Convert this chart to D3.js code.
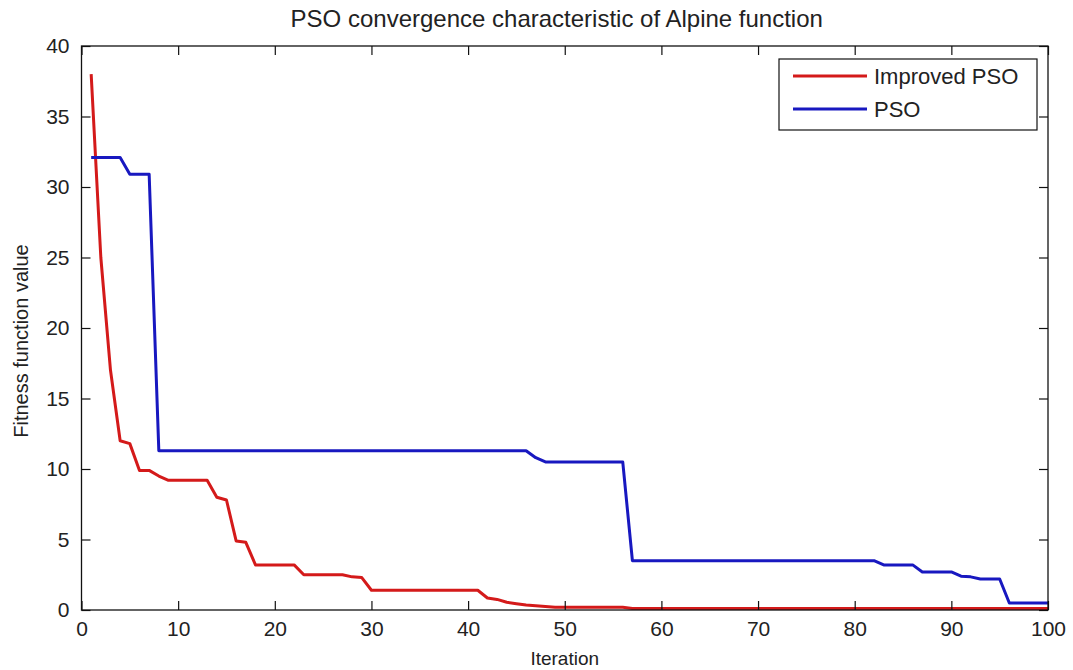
<!DOCTYPE html>
<html>
<head>
<meta charset="utf-8">
<script src="https://cdn.jsdelivr.net/npm/d3@7/dist/d3.min.js"></script>
<style>
html,body{margin:0;padding:0;background:#fff;}
svg{display:block;}
text{font-family:"Liberation Sans",Arial,sans-serif;fill:#222;}
</style>
</head>
<body>
<svg id="chart" width="1073" height="670"></svg>
<script>
const title = "PSO convergence characteristic of Alpine function";
const xLabel = "Iteration";
const yLabel = "Fitness function value";
const seriesNames = ["Improved PSO", "PSO"];
const seriesColors = ["#d41a1a", "#1818c0"];
const xTicks = [0,10,20,30,40,50,60,70,80,90,100];
const yTicks = [0,5,10,15,20,25,30,35,40];

const iterations = Array.from({length:100}, (_, i) => i + 1);

const improvedPSO = [
  38, 25, 17, 12, 11.8, 9.9, 9.9, 9.5, 9.2, 9.2,
  9.2, 9.2, 9.2, 8.0, 7.8, 4.9, 4.8, 3.2, 3.2, 3.2,
  3.2, 3.2, 2.5, 2.5, 2.5, 2.5, 2.5, 2.35, 2.3, 1.4,
  1.4, 1.4, 1.4, 1.4, 1.4, 1.4, 1.4, 1.4, 1.4, 1.4,
  1.4, 0.85, 0.75, 0.55, 0.45, 0.35, 0.3, 0.25, 0.2, 0.2,
  0.2, 0.2, 0.2, 0.2, 0.2, 0.2, 0.1, 0.1, 0.1, 0.1,
  0.1, 0.1, 0.1, 0.1, 0.1, 0.1, 0.1, 0.1, 0.1, 0.1,
  0.1, 0.1, 0.1, 0.1, 0.1, 0.1, 0.1, 0.1, 0.1, 0.1,
  0.1, 0.1, 0.1, 0.1, 0.1, 0.1, 0.1, 0.1, 0.1, 0.1,
  0.1, 0.1, 0.1, 0.1, 0.1, 0.1, 0.1, 0.1, 0.1, 0.1
];

const basicPSO = [
  32.1, 32.1, 32.1, 32.1, 30.9, 30.9, 30.9, 11.3, 11.3, 11.3,
  11.3, 11.3, 11.3, 11.3, 11.3, 11.3, 11.3, 11.3, 11.3, 11.3,
  11.3, 11.3, 11.3, 11.3, 11.3, 11.3, 11.3, 11.3, 11.3, 11.3,
  11.3, 11.3, 11.3, 11.3, 11.3, 11.3, 11.3, 11.3, 11.3, 11.3,
  11.3, 11.3, 11.3, 11.3, 11.3, 11.3, 10.8, 10.5, 10.5, 10.5,
  10.5, 10.5, 10.5, 10.5, 10.5, 10.5, 3.5, 3.5, 3.5, 3.5,
  3.5, 3.5, 3.5, 3.5, 3.5, 3.5, 3.5, 3.5, 3.5, 3.5,
  3.5, 3.5, 3.5, 3.5, 3.5, 3.5, 3.5, 3.5, 3.5, 3.5,
  3.5, 3.5, 3.2, 3.2, 3.2, 3.2, 2.7, 2.7, 2.7, 2.7,
  2.4, 2.35, 2.2, 2.2, 2.2, 0.5, 0.5, 0.5, 0.5, 0.5
];

const svg = d3.select("#chart");
const L = 81.5, R = 1048, T = 46, B = 610;

const x = d3.scaleLinear().domain([0,100]).range([L,R]);
const y = d3.scaleLinear().domain([0,40]).range([B,T]);

const tickLen = 9;
const tickFont = 21;

const line = d3.line().x((d,i)=>x(iterations[i])).y(d=>y(d));
const series = [improvedPSO, basicPSO];
series.forEach((s, k) => {
  svg.append("path")
    .datum(s)
    .attr("d", line)
    .attr("fill","none")
    .attr("stroke", seriesColors[k])
    .attr("stroke-width", 3)
    .attr("stroke-linejoin","round");
});

const gB = svg.append("g").attr("transform",`translate(0,${B})`)
  .call(d3.axisBottom(x).tickValues(xTicks).tickSizeInner(-tickLen).tickSizeOuter(0).tickPadding(tickLen+2));
const gT = svg.append("g").attr("transform",`translate(0,${T})`)
  .call(d3.axisTop(x).tickValues(xTicks).tickSizeInner(-tickLen).tickSizeOuter(0).tickFormat(""));
const gL = svg.append("g").attr("transform",`translate(${L},0)`)
  .call(d3.axisLeft(y).tickValues(yTicks).tickSizeInner(-tickLen).tickSizeOuter(0).tickPadding(tickLen+3));
const gR = svg.append("g").attr("transform",`translate(${R},0)`)
  .call(d3.axisRight(y).tickValues(yTicks).tickSizeInner(-tickLen).tickSizeOuter(0).tickFormat(""));

[gB,gT,gL,gR].forEach(g=>{
  g.select(".domain").remove();
  g.selectAll(".tick line").attr("stroke","#111").attr("stroke-width",1.2);
  g.selectAll(".tick text").attr("font-size",tickFont).attr("font-family","Liberation Sans, Arial, sans-serif").attr("fill","#222");
});
gB.selectAll(".tick text").attr("dy","0.72em");

svg.append("rect").attr("x",L).attr("y",T).attr("width",R-L).attr("height",B-T)
  .attr("fill","none").attr("stroke","#111").attr("stroke-width",1.3);

svg.append("text").attr("x",(L+R)/2 - 8).attr("y",27).attr("text-anchor","middle")
  .attr("font-size",24).text(title);
svg.append("text").attr("x",(L+R)/2).attr("y",665).attr("text-anchor","middle")
  .attr("font-size",19).text(xLabel);
svg.append("text").attr("transform",`translate(28,${(T+B)/2 + 13}) rotate(-90)`).attr("text-anchor","middle")
  .attr("font-size",20).text(yLabel);

const lg = svg.append("g");
lg.append("rect").attr("x",779).attr("y",59).attr("width",258).attr("height",71)
  .attr("fill","#fff").attr("stroke","#111").attr("stroke-width",1.2);
seriesNames.forEach((n,k)=>{
  const yy = 76 + k*33;
  lg.append("line").attr("x1",793).attr("x2",867).attr("y1",yy).attr("y2",yy)
    .attr("stroke",seriesColors[k]).attr("stroke-width",3);
  lg.append("text").attr("x",874).attr("y",yy).attr("dy","0.36em")
    .attr("font-size",22).text(n);
});
</script>
</body>
</html>
